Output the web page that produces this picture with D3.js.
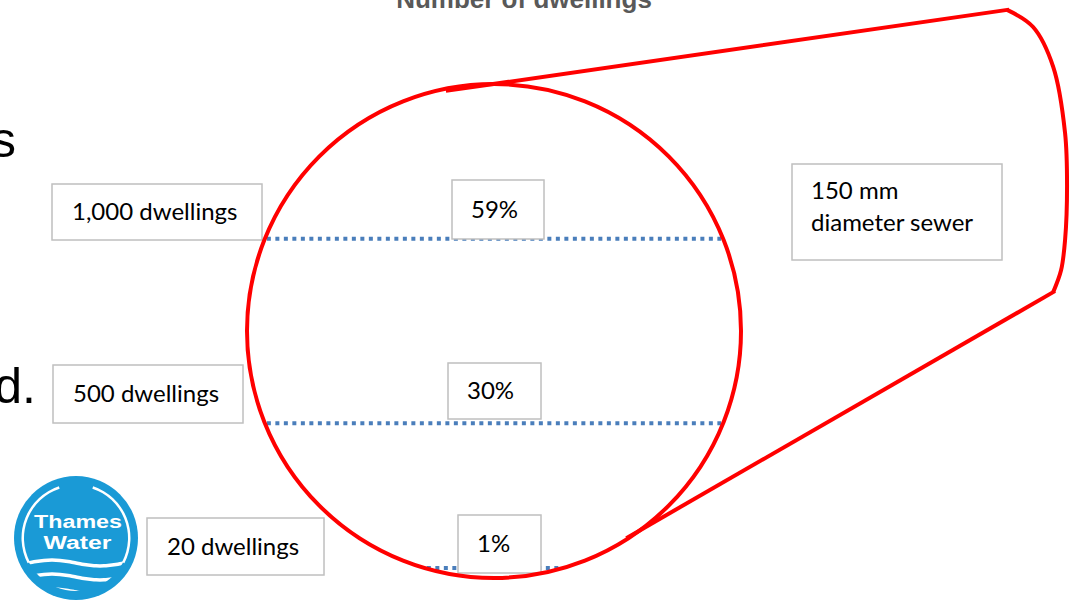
<!DOCTYPE html>
<html>
<head>
<meta charset="utf-8">
<script src="https://cdn.jsdelivr.net/npm/d3@7"></script>
<style>
  html, body { margin: 0; padding: 0; background: #fff; overflow: hidden; }
</style>
</head>
<body>
<div id="chart"></div>
<script>
// values
const dwellings = [1000, 500, 20];
const fillPct = [59, 30, 1];
const depthMm = [103, 47, 3];          // water depth above the invert, mm
const pipeDiameterMm = 150;
const sewerLabel = ["150 mm", "diameter sewer"];
const title = "Number of dwellings";

// annotation layout (pixels)
const dwellBox = [
  {x: 52, y: 184, w: 210, h: 56},
  {x: 53, y: 365, w: 190, h: 58},
  {x: 147, y: 518, w: 177, h: 57}
];
const pctBox = [
  {x: 452, y: 180, w: 92, h: 59},
  {x: 448, y: 363, w: 93, h: 56},
  {x: 458, y: 515, w: 83, h: 58}
];
const sewerBox = {x: 792, y: 164, w: 210, h: 96};

// outline of the pipe running away from the viewer, in mm (origin = pipe centre)
const farOutline = [
  [-14, 73], [155.8, 97.5], [163.7, 92.3], [169.8, 80.2], [173.4, 60.1],
  [174.0, 44], [173.4, 27.6], [172.2, 18.5], [169.8, 11.8], [40.7, -62.6]
];

const width = 1077, height = 601;
const R = pipeDiameterMm / 2;

const svg = d3.select("#chart").append("svg")
    .attr("width", width)
    .attr("height", height);

// mm -> px
const x = d3.scaleLinear().domain([-R, R]).range([247, 741]);
const y = d3.scaleLinear().domain([-R, R]).range([578, 84]);

// cut-off slide text
svg.append("text")
    .attr("x", 524).attr("y", 8)
    .attr("text-anchor", "middle")
    .style("font", "bold 26px 'Liberation Sans', Arial, sans-serif")
    .attr("fill", "#595959")
    .text(title);

svg.append("text")
    .attr("x", 16).attr("y", 157)
    .attr("text-anchor", "end")
    .style("font", "50px 'Liberation Sans', Arial, sans-serif")
    .attr("fill", "#000")
    .text("s");

svg.append("text")
    .attr("x", 36).attr("y", 403)
    .attr("text-anchor", "end")
    .style("font", "50px 'Liberation Sans', Arial, sans-serif")
    .attr("fill", "#000")
    .text("d.");

// water levels as chords of the pipe
const levels = depthMm.map(function(d, i) {
  const h = d - R;
  const half = Math.sqrt(R * R - h * h);
  return {h: h, half: half, i: i};
});

svg.selectAll(".level")
    .data(levels)
  .enter().append("line")
    .attr("class", "level")
    .attr("x1", function(d) { return x(-d.half) + 2; })
    .attr("x2", function(d) { return x(d.half) - 2; })
    .attr("y1", function(d) { return y(d.h); })
    .attr("y2", function(d) { return y(d.h); })
    .attr("stroke", "#4a7ebb")
    .attr("stroke-width", 4)
    .attr("stroke-dasharray", "4 4.5");

const labelFont = "24px Lato, 'Open Sans', sans-serif";

function drawBox(b, lines, padX, firstBaseline) {
  const g = svg.append("g");
  g.append("rect")
      .attr("x", b.x).attr("y", b.y)
      .attr("width", b.w).attr("height", b.h)
      .attr("fill", "#fff")
      .attr("stroke", "#bfbfbf")
      .attr("stroke-width", 1.5);
  const lh = 32;
  const y0 = firstBaseline != null ? b.y + firstBaseline : b.y + b.h / 2 + 8;
  lines.forEach(function(t, k) {
    g.append("text")
        .attr("x", b.x + padX)
        .attr("y", y0 + k * lh)
        .style("font", labelFont)
        .attr("fill", "#000")
        .text(t);
  });
}

const fmt = d3.format(",");
dwellings.forEach(function(d, i) {
  drawBox(dwellBox[i], [fmt(d) + " dwellings"], 20);
});
fillPct.forEach(function(p, i) {
  drawBox(pctBox[i], [p + "%"], 19);
});
drawBox(sewerBox, sewerLabel, 19, 35);

// pipe cross-section and its far end
svg.append("path")
    .attr("d", d3.line()
        .x(function(d) { return x(d[0]); })
        .y(function(d) { return y(d[1]); })
        .curve(d3.curveCatmullRom.alpha(0.5))(farOutline.slice(1, 9)))
    .attr("fill", "none")
    .attr("stroke", "#ff0000")
    .attr("stroke-width", 4);

svg.append("line")
    .attr("x1", x(farOutline[0][0])).attr("y1", y(farOutline[0][1]))
    .attr("x2", x(farOutline[1][0])).attr("y2", y(farOutline[1][1]))
    .attr("stroke", "#ff0000").attr("stroke-width", 4)
    .attr("stroke-linecap", "square");

svg.append("line")
    .attr("x1", x(farOutline[8][0])).attr("y1", y(farOutline[8][1]))
    .attr("x2", x(farOutline[9][0])).attr("y2", y(farOutline[9][1]))
    .attr("stroke", "#ff0000").attr("stroke-width", 4)
    .attr("stroke-linecap", "square");

svg.append("ellipse")
    .attr("cx", x(0)).attr("cy", y(0))
    .attr("rx", x(R) - x(0)).attr("ry", y(-R) - y(0))
    .attr("fill", "none")
    .attr("stroke", "#ff0000")
    .attr("stroke-width", 4);

// Thames Water logo
const logo = svg.append("g").attr("transform", "translate(76,538)");
logo.append("circle").attr("r", 62).attr("fill", "#1a9ad6");

const ring = d3.arc().innerRadius(52).outerRadius(54.5);
logo.append("path")
    .attr("d", ring({startAngle: 0.32, endAngle: 2.05}))
    .attr("fill", "#fff");
logo.append("path")
    .attr("d", ring({startAngle: -2.05, endAngle: -0.32}))
    .attr("fill", "#fff");

logo.append("text")
    .attr("x", 2).attr("y", -10)
    .attr("text-anchor", "middle")
    .attr("textLength", 88)
    .attr("lengthAdjust", "spacingAndGlyphs")
    .style("font", "bold 18px 'Liberation Sans', Arial, sans-serif")
    .attr("fill", "#fff")
    .text("Thames");
logo.append("text")
    .attr("x", 1.5).attr("y", 11)
    .attr("text-anchor", "middle")
    .attr("textLength", 68)
    .attr("lengthAdjust", "spacingAndGlyphs")
    .style("font", "bold 18px 'Liberation Sans', Arial, sans-serif")
    .attr("fill", "#fff")
    .text("Water");

logo.append("clipPath").attr("id", "logoClip")
  .append("circle").attr("r", 53);

const wave = d3.line().curve(d3.curveBasis);
[{y0: 25, x0: -48, x1: 48}, {y0: 39, x0: -48, x1: 48}, {y0: 54, x0: -30, x1: 30}].forEach(function(w) {
  const pts = d3.range(w.x0, w.x1 + 1, 4).map(function(px) {
    return [px, w.y0 - 3 * Math.sin((px + 48) / 96 * 2 * Math.PI)];
  });
  logo.append("path")
      .attr("d", wave(pts))
      .attr("clip-path", "url(#logoClip)")
      .attr("fill", "none")
      .attr("stroke", "#fff")
      .attr("stroke-width", 3.5);
});
</script>
</body>
</html>
